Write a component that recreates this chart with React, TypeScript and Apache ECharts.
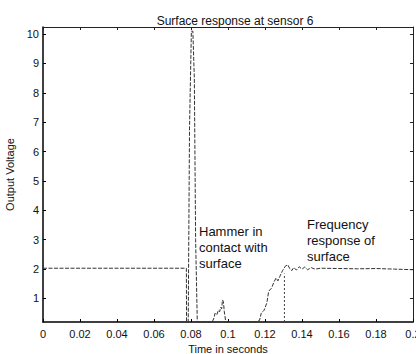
import React, { useEffect, useRef } from "react";
import * as echarts from "echarts";

// Main sensor trace (seconds, volts)
const timeS = [
  0, 0.0775, 0.0776, 0.0785, 0.0792, 0.0802, 0.081, 0.0818, 0.0825, 0.0834,
  0.0915, 0.0925, 0.093, 0.094, 0.0948, 0.0955, 0.096, 0.0966, 0.097, 0.0975, 0.098, 0.0988,
  0.1148, 0.117, 0.118, 0.1195, 0.121, 0.122, 0.1235, 0.125, 0.126, 0.127, 0.128, 0.1295,
  0.131, 0.1323, 0.1335, 0.1345, 0.1355, 0.137, 0.1385, 0.14, 0.1415, 0.143, 0.145, 0.147,
  0.15, 0.16, 0.17, 0.18, 0.19, 0.2,
];
const voltage = [
  2.03, 2.03, 0.2, 0.2, 6.8, 10.1, 10.1, 8.5, 3.0, 0.2,
  0.2, 0.35, 0.5, 0.45, 0.6, 0.55, 0.7, 0.65, 0.95, 0.9, 0.55, 0.2,
  0.2, 0.25, 0.5, 0.6, 0.85, 1.25, 1.35, 1.58, 1.7, 1.6, 1.75, 1.95,
  2.1, 2.15, 2.0, 1.95, 2.05, 1.97, 2.08, 2.0, 2.07, 1.98, 2.05, 2.0,
  2.03, 2.02, 2.01, 2.02, 2.0, 1.98,
];
// Vertical marker line at start of frequency response
const markerTime = [0.1305, 0.1305];
const markerVoltage = [0.2, 1.85];

const yTickValues = [1, 2, 3, 4, 5, 6, 7, 8, 9, 10];
const titleText = "Surface response at sensor 6";
const xName = "Time in seconds";
const yName = "Output Voltage";
const note1 = ["Hammer in", "contact with", "surface"];
const note2 = ["Frequency", "response of", "surface"];

const FONT = "Liberation Sans, Arial, Helvetica, sans-serif";

export default function App() {
  const ref = useRef<HTMLDivElement>(null);
  useEffect(() => {
    const chart = echarts.init(ref.current!, null, { renderer: "svg" });
    const mainData = timeS.map((t, i) => [t, voltage[i]]);
    const markData = markerTime.map((t, i) => [t, markerVoltage[i]]);
    const xMin = 0, xMax = 0.2, yMin = 0.2, yMax = 10.24;
    const fmt = (v: number) => String(parseFloat(v.toFixed(2)));
    chart.setOption({
      animation: false,
      backgroundColor: "#fff",
      textStyle: { fontFamily: FONT },
      title: {
        text: titleText,
        left: 230,
        textAlign: "center",
        top: 10,
        textStyle: { fontSize: 12, fontWeight: "normal", color: "#111", fontFamily: FONT },
      },
      grid: { left: 43, right: 3, top: 27, bottom: 32, containLabel: false, outerBoundsMode: "none" },
      xAxis: [
        {
          type: "value",
          min: xMin,
          max: xMax,
          interval: 0.02,
          name: xName,
          nameLocation: "middle",
          nameGap: 20,
          nameTextStyle: { fontSize: 11, color: "#111", fontFamily: FONT },
          axisLine: { show: true, onZero: false, lineStyle: { color: "#000", width: 1.5 } },
          axisTick: { show: true, inside: true, length: 3, lineStyle: { color: "#000" } },
          axisLabel: { fontSize: 11, color: "#111", margin: 6, formatter: fmt, fontFamily: FONT },
          splitLine: { show: false },
        },
        {
          type: "value",
          position: "top",
          min: xMin,
          max: xMax,
          interval: 0.02,
          axisLine: { show: true, onZero: false, lineStyle: { color: "#222", width: 1 } },
          axisTick: { show: true, inside: true, length: 3, lineStyle: { color: "#222" } },
          axisLabel: { show: false },
          splitLine: { show: false },
        },
      ],
      yAxis: [
        {
          type: "value",
          min: yMin,
          max: yMax,
          name: yName,
          nameLocation: "middle",
          nameGap: 17,
          nameTextStyle: { fontSize: 11, color: "#111", fontFamily: FONT },
          axisLine: { show: true, onZero: false, lineStyle: { color: "#000", width: 1.5 } },
          axisTick: { show: true, inside: true, length: 3, customValues: yTickValues, lineStyle: { color: "#000" } },
          axisLabel: { fontSize: 11, color: "#111", margin: 4, customValues: yTickValues, fontFamily: FONT },
          splitLine: { show: false },
        },
        {
          type: "value",
          position: "right",
          min: yMin,
          max: yMax,
          axisLine: { show: true, onZero: false, lineStyle: { color: "#222", width: 1 } },
          axisTick: { show: true, inside: true, length: 3, customValues: yTickValues, lineStyle: { color: "#222" } },
          axisLabel: { show: false },
          splitLine: { show: false },
        },
      ],
      series: [
        {
          type: "line",
          data: mainData,
          xAxisIndex: 0,
          yAxisIndex: 0,
          symbol: "none",
          lineStyle: { color: "#333", width: 1, type: [4, 1.5] },
          z: 3,
        },
        {
          type: "line",
          data: markData,
          xAxisIndex: 0,
          yAxisIndex: 0,
          symbol: "none",
          lineStyle: { color: "#444", width: 1, type: [2, 2] },
          z: 3,
        },
      ],
      graphic: [
        {
          type: "text",
          left: 199,
          top: 223,
          style: {
            text: note1.join("\n"),
            fontSize: 13,
            lineHeight: 16,
            fill: "#111",
            fontFamily: FONT,
          },
        },
        {
          type: "text",
          left: 307,
          top: 216,
          style: {
            text: note2.join("\n"),
            fontSize: 13,
            lineHeight: 16,
            fill: "#111",
            fontFamily: FONT,
          },
        },
      ],
    });
    return () => chart.dispose();
  }, []);
  return (
    <div
      ref={ref}
      style={{ position: "absolute", left: 0, top: 0, width: 416, height: 354 }}
    />
  );
}
